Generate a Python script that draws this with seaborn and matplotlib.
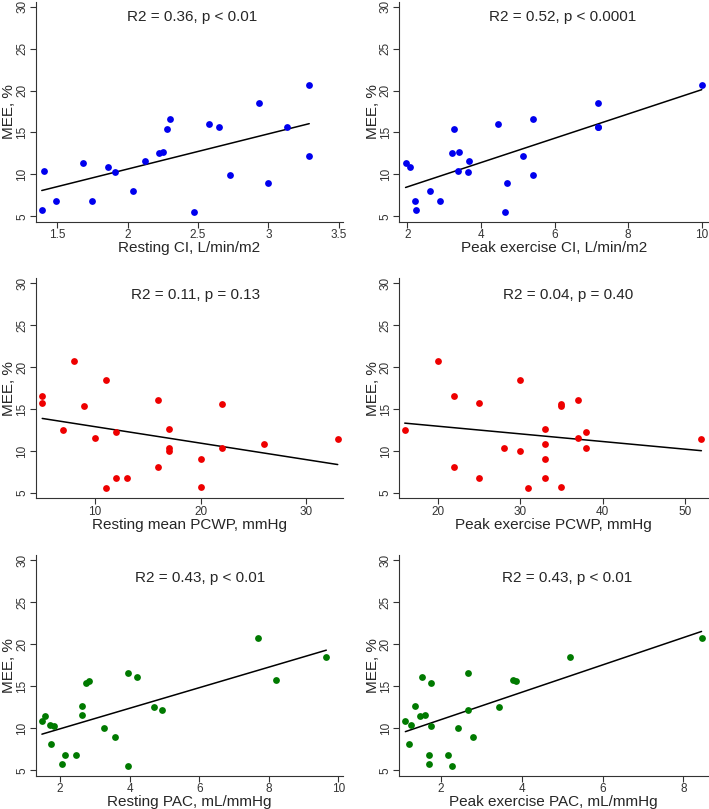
import matplotlib
matplotlib.use("Agg")
import matplotlib.pyplot as plt
import seaborn as sns
import numpy as np
import pandas as pd

sns.set_style("ticks")
plt.rcParams['font.family'] = ['Liberation Sans', 'DejaVu Sans']

mee = [5.72, 10.38, 6.83, 11.41, 6.83, 10.86, 10.30, 8.07, 11.57, 12.53, 12.61,
       15.40, 16.59, 5.52, 16.04, 15.60, 9.98, 18.51, 8.98, 15.68, 12.21, 20.70]

resting_ci = [1.39, 1.405, 1.49, 1.68, 1.746, 1.86, 1.91, 2.04, 2.12, 2.22, 2.25,
              2.28, 2.30, 2.47, 2.58, 2.65, 2.73, 2.93, 3.00, 3.135, 3.29, 3.29]
peak_ci = [2.23, 3.38, 2.21, 1.95, 2.88, 2.08, 3.65, 2.62, 3.67, 3.20, 3.41,
           3.28, 5.41, 4.64, 4.47, 7.17, 5.41, 7.17, 4.72, 7.18, 5.13, 10.0]
resting_pcwp = [20, 17, 12, 33, 13, 26, 22, 16, 10, 7, 17,
                9, 5, 11, 16, 22, 17, 11, 20, 5, 12, 8]
peak_pcwp = [35, 28, 25, 52, 33, 33, 38, 22, 37, 16, 33,
             35, 22, 31, 37, 35, 30, 30, 33, 25, 38, 20]
resting_pac = [2.06, 1.70, 2.14, 1.58, 2.46, 1.48, 1.83, 1.75, 2.64, 4.69, 2.63,
               2.74, 3.95, 3.96, 4.20, 2.84, 3.25, 9.65, 3.57, 8.21, 4.93, 7.68]
peak_pac = [1.71, 1.26, 1.71, 1.47, 2.17, 1.12, 1.76, 1.22, 1.60, 3.44, 1.35,
            1.76, 2.68, 2.27, 1.54, 3.85, 2.43, 5.20, 2.79, 3.78, 2.66, 8.45]

xlabels = ["Resting CI, L/min/m2", "Peak exercise CI, L/min/m2",
           "Resting mean PCWP, mmHg", "Peak exercise PCWP, mmHg",
           "Resting PAC, mL/mmHg", "Peak exercise PAC, mL/mmHg"]
stats_text = ["R2 = 0.36, p < 0.01", "R2 = 0.52, p < 0.0001",
              "R2 = 0.11, p = 0.13", "R2 = 0.04, p = 0.40",
              "R2 = 0.43, p < 0.01", "R2 = 0.43, p < 0.01"]
xvals = [resting_ci, peak_ci, resting_pcwp, peak_pcwp, resting_pac, peak_pac]
xticks = [[1.5, 2, 2.5, 3, 3.5], [2, 4, 6, 8, 10], [10, 20, 30],
          [20, 30, 40, 50], [2, 4, 6, 8, 10], [2, 4, 6, 8]]
xtick_labels = [["1.5", "2", "2.5", "3", "3.5"], ["2", "4", "6", "8", "10"],
                ["10", "20", "30"], ["20", "30", "40", "50"],
                ["2", "4", "6", "8", "10"], ["2", "4", "6", "8"]]
colors = ["#0000ee", "#0000ee", "#ee0000", "#ee0000", "#007a00", "#007a00"]

W, H = 709, 809
fig = plt.figure(figsize=(W / 100, H / 100), dpi=100)

# pixel geometry: (left, right) per column, (top, bottom) per row
cols = [(36, 343), (399.3, 708)]
rows = [(1.7, 221.7), (278.3, 498.3), (555, 775.7)]
xlims = [(1.349, 3.53), (1.78, 10.17), (4.41, 33.5), (15.34, 52.8),
         (1.31, 10.13), (0.97, 8.61)]
text_pos = [(0.51, 28.75), (0.53, 28.75), (0.52, 28.6), (0.547, 28.6),
            (0.534, 27.9), (0.543, 27.9)]

for i in range(6):
    r, c = divmod(i, 2)
    l, rr = cols[c]
    t, b = rows[r]
    ax = fig.add_axes([l / W, 1 - b / H, (rr - l) / W, (b - t) / H])
    df = pd.DataFrame({"x": xvals[i], "y": mee})
    sns.regplot(data=df, x="x", y="y", ax=ax, scatter=False, ci=None,
                truncate=True, line_kws=dict(color="black", lw=1.1, zorder=2))
    sns.scatterplot(data=df, x="x", y="y", ax=ax, color=colors[i], s=24,
                    linewidth=0, zorder=3)
    ax.set_xlim(*xlims[i])
    ax.set_ylim(4.35, 30.6)
    ax.set_yticks([5, 10, 15, 20, 25, 30])
    ax.set_yticklabels(["5", "10", "15", "20", "25", "30"], rotation=90,
                       va="center", fontsize=8.5, color="#333333")
    ax.set_xticks(xticks[i])
    ax.set_xticklabels(xtick_labels[i], fontsize=8.5, color="#333333")
    ax.tick_params(axis="both", length=4, width=0.8, pad=1.5, color="#333333")
    for s in ["top", "right"]:
        ax.spines[s].set_visible(False)
    for s in ["left", "bottom"]:
        ax.spines[s].set_linewidth(0.8)
        ax.spines[s].set_color("#333333")
    ax.set_xlabel(xlabels[i], fontsize=11, labelpad=0)
    ax.set_ylabel("MEE, %", fontsize=11, labelpad=0)
    tx, ty = text_pos[i]
    ax.text(tx, ty, stats_text[i], transform=ax.get_yaxis_transform(),
            ha="center", va="center", fontsize=11)

fig.savefig("out.png", dpi=100)
